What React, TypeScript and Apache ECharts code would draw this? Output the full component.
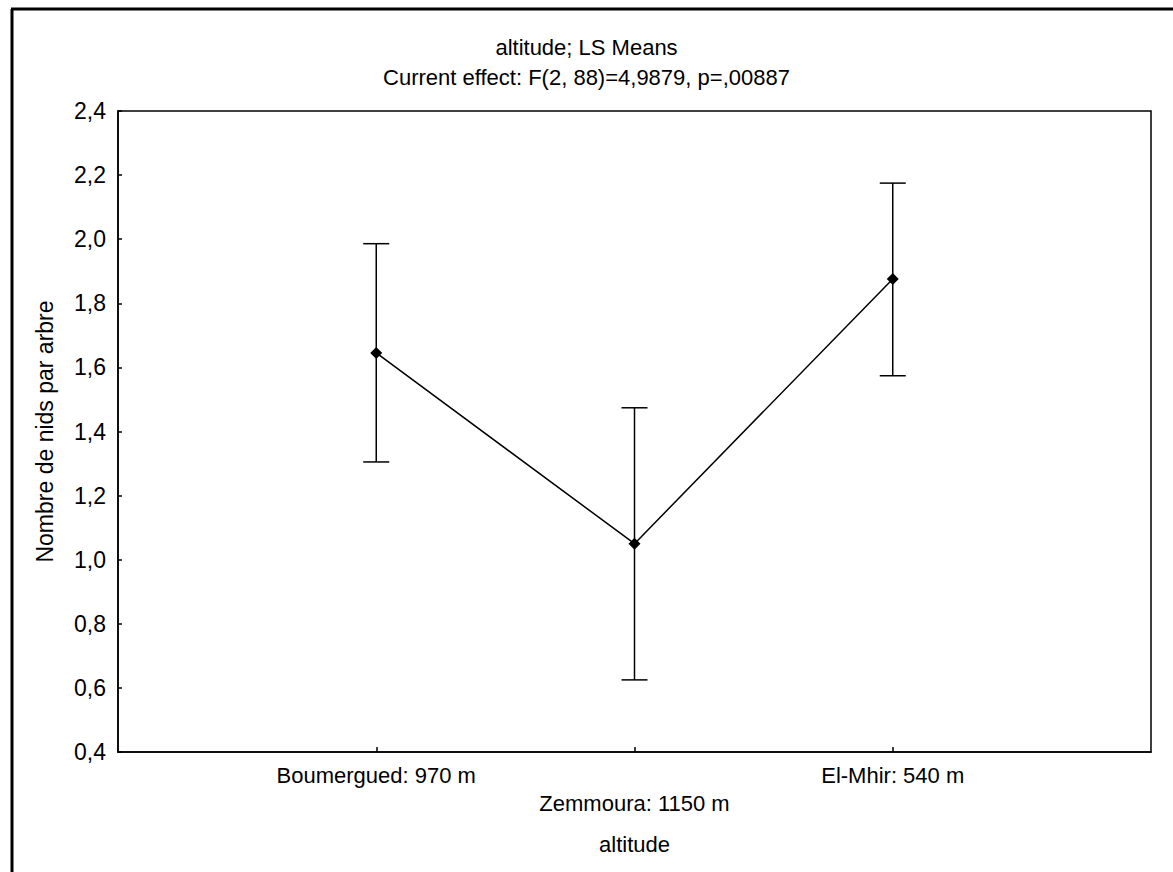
import React, { useEffect, useRef } from "react";
import * as echarts from "echarts";

const categories = ["Boumergued: 970 m", "Zemmoura: 1150 m", "El-Mhir: 540 m"];
const xPositions = [1, 2, 3];
const means = [1.645, 1.05, 1.876];
const lower = [1.305, 0.625, 1.574];
const upper = [1.986, 1.474, 2.175];
const titleLines = ["altitude; LS Means", "Current effect: F(2, 88)=4,9879, p=,00887"];
const yAxisName = "Nombre de nids par arbre";
const xAxisName = "altitude";

const FONT = "'Liberation Sans', Arial, sans-serif";

export default function App() {
  const ref = useRef<HTMLDivElement>(null);
  useEffect(() => {
    if (!ref.current) return;
    const chart = echarts.init(ref.current, undefined, { renderer: "svg" });
    const meanData = xPositions.map((x, i) => [x, means[i]]);
    const errData = xPositions.map((x, i) => [x, lower[i], upper[i]]);
    chart.setOption({
      animation: false,
      backgroundColor: "#ffffff",
      title: [
        {
          text: titleLines[0],
          left: "center",
          top: 31,
          textStyle: { fontFamily: FONT, fontSize: 22, fontWeight: "normal", color: "#000" },
        },
        {
          text: titleLines[1],
          left: "center",
          top: 61,
          textStyle: { fontFamily: FONT, fontSize: 22, fontWeight: "normal", color: "#000" },
        },
      ],
      graphic: [
        { type: "line", shape: { x1: 12, y1: 9, x2: 12, y2: 872 }, style: { stroke: "#000", lineWidth: 3 } },
        { type: "line", shape: { x1: 11, y1: 9, x2: 1173, y2: 9 }, style: { stroke: "#000", lineWidth: 3 } },
      ],
      grid: {
        left: 118,
        right: 22,
        top: 111,
        bottom: 120,
        show: true,
        borderColor: "#000",
        borderWidth: 1.5,
        containLabel: false,
      },
      xAxis: {
        type: "value",
        min: 0,
        max: 4,
        interval: 1,
        name: xAxisName,
        nameLocation: "middle",
        nameGap: 81,
        nameTextStyle: { fontFamily: FONT, fontSize: 22, color: "#000" },
        axisLine: { show: true, lineStyle: { color: "#000", width: 1.5 } },
        axisTick: {
          show: true,
          inside: true,
          length: 5,
          lineStyle: { color: "#000", width: 1.5 },
        },
        splitLine: { show: false },
        axisLabel: {
          fontFamily: FONT,
          fontSize: 22,
          color: "#000",
          margin: 9,
          lineHeight: 28,
          formatter: (v: number) => {
            const i = xPositions.indexOf(v);
            if (i < 0) return "";
            return i === 1 ? "\n" + categories[i] : categories[i];
          },
          showMinLabel: false,
          showMaxLabel: false,
        },
      },
      yAxis: {
        type: "value",
        min: 0.4,
        max: 2.4,
        interval: 0.2,
        name: yAxisName,
        nameLocation: "middle",
        nameGap: 62,
        nameTextStyle: { fontFamily: FONT, fontSize: 23, color: "#000" },
        axisLine: { show: true, lineStyle: { color: "#000", width: 1.5 } },
        axisTick: { show: true, inside: true, length: 4, lineStyle: { color: "#000", width: 1.5 } },
        splitLine: { show: false },
        axisLabel: {
          fontFamily: FONT,
          fontSize: 23,
          color: "#000",
          margin: 12,
          formatter: (v: number) => v.toFixed(1).replace(".", ","),
        },
      },
      series: [
        {
          type: "custom",
          data: errData,
          z: 2,
          renderItem: (params: any, api: any) => {
            const x = api.value(0);
            const lo = api.coord([x, api.value(1)]);
            const hi = api.coord([x, api.value(2)]);
            const cap = 13;
            const style = { stroke: "#000", lineWidth: 1.5 };
            return {
              type: "group",
              children: [
                { type: "line", shape: { x1: lo[0], y1: lo[1], x2: hi[0], y2: hi[1] }, style },
                { type: "line", shape: { x1: lo[0] - cap, y1: lo[1], x2: lo[0] + cap, y2: lo[1] }, style },
                { type: "line", shape: { x1: hi[0] - cap, y1: hi[1], x2: hi[0] + cap, y2: hi[1] }, style },
              ],
            };
          },
        },
        {
          type: "line",
          data: meanData,
          z: 3,
          symbol: "diamond",
          symbolSize: 12,
          itemStyle: { color: "#000" },
          lineStyle: { color: "#000", width: 1.5 },
        },
      ],
    });
    return () => chart.dispose();
  }, []);
  return (
    <div
      ref={ref}
      style={{ position: "fixed", left: 0, top: 0, width: 1173, height: 872, background: "#fff" }}
    />
  );
}
